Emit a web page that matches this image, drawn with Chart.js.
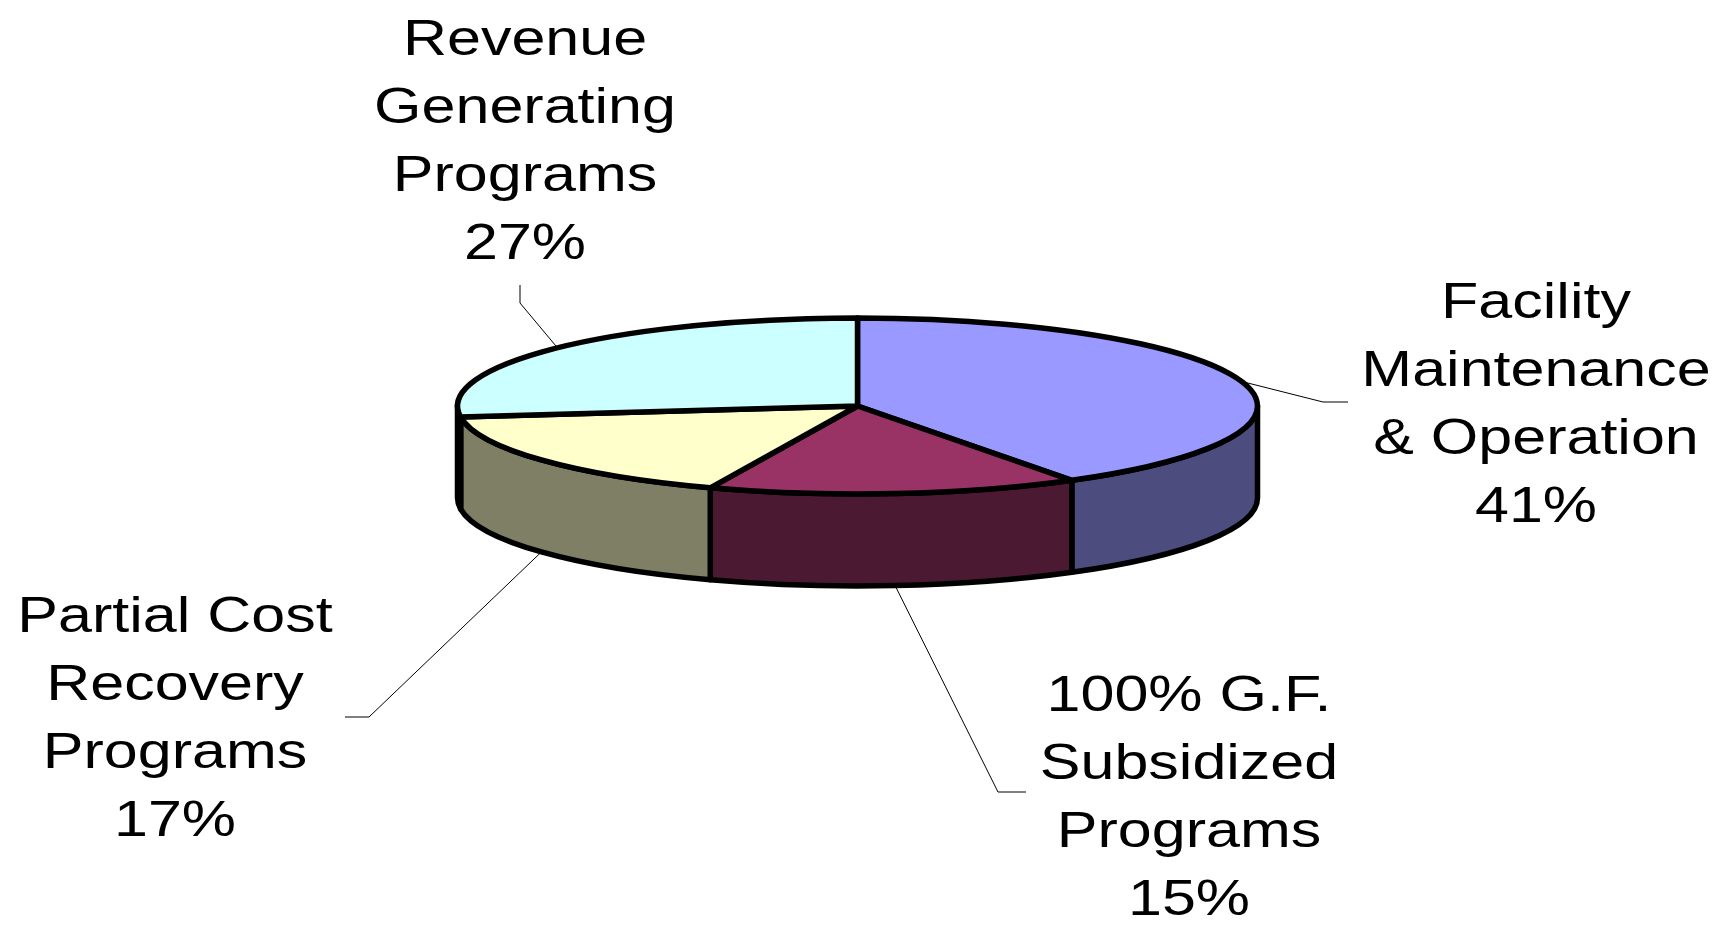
<!DOCTYPE html>
<html>
<head>
<meta charset="utf-8">
<script src="https://cdn.jsdelivr.net/npm/chart.js@4"></script>
<style>
  html, body { margin: 0; padding: 0; background: #fff; }
  #wrap { width: 1729px; height: 930px; }
</style>
</head>
<body>
<div id="wrap"><canvas id="budgetPie" width="1729" height="930"></canvas></div>
<script>
// --- chart data ---
const categories = [
    ['Facility', 'Maintenance', '& Operation'],
    ['100% G.F.', 'Subsidized', 'Programs'],
    ['Partial Cost', 'Recovery', 'Programs'],
    ['Revenue', 'Generating', 'Programs']
];
const shares = [41, 15, 17, 27];

// Excel palette: top face + half-tone side wall
const topColors = ['#9999FF', '#993366', '#FFFFCC', '#CCFFFF'];
const sideColors = ['#4C4C7F', '#4C1933', '#7F7F66', '#667F7F'];

// label anchor (centre of first baseline) and leader line bend
const labelLayout = [
    { x: 1536, y: 318, elbow: [1323, 402], end: [1348, 402] },
    { x: 1189, y: 711, elbow: [998, 792], end: [1026, 792] },
    { x: 175,  y: 632, elbow: [369, 717], end: [345, 717] },
    { x: 525,  y: 55,  elbow: [520, 303], end: [520, 285] }
];

/**
 * Fake 3D pie: squash the arcs Chart.js lays out into an ellipse
 * and give the front half a wall.
 */
const pie3d = {
    id: 'pie3d',
    beforeDatasetsDraw(chart, args, opts) {
        const ctx = chart.ctx;
        const arcs = chart.getDatasetMeta(0).data;
        ctx.save();
        ctx.lineWidth = opts.edgeWidth;
        ctx.lineJoin = 'round';
        ctx.strokeStyle = '#000';

        // walls - only the part facing us (0..PI)
        arcs.forEach((arc, i) => {
            const a1 = Math.max(arc.startAngle, 0);
            const a2 = Math.min(arc.endAngle, Math.PI);
            if (a2 <= a1) return;
            const rx = arc.outerRadius, ry = rx * opts.tilt;
            ctx.beginPath();
            ctx.ellipse(arc.x, arc.y, rx, ry, 0, a1, a2);
            ctx.ellipse(arc.x, arc.y + opts.depth, rx, ry, 0, a2, a1, true);
            ctx.closePath();
            ctx.fillStyle = sideColors[i];
            ctx.fill();
            ctx.stroke();
        });

        // top faces
        arcs.forEach((arc, i) => {
            const rx = arc.outerRadius, ry = rx * opts.tilt;
            ctx.beginPath();
            ctx.moveTo(arc.x, arc.y);
            ctx.ellipse(arc.x, arc.y, rx, ry, 0, arc.startAngle, arc.endAngle);
            ctx.closePath();
            ctx.fillStyle = topColors[i];
            ctx.fill();
            ctx.stroke();
        });
        ctx.restore();
    },
    // skip the flat default arcs
    beforeDatasetDraw() { return false; },
    afterDraw(chart, args, opts) {
        const ctx = chart.ctx;
        const arcs = chart.getDatasetMeta(0).data;
        const total = shares.reduce((a, b) => a + b, 0);
        ctx.save();
        arcs.forEach((arc, i) => {
            const lay = labelLayout[i];
            const mid = (arc.startAngle + arc.endAngle) / 2;
            const rx = arc.outerRadius, ry = rx * opts.tilt;
            const px = arc.x + rx * Math.cos(mid);
            const py = arc.y + ry * Math.sin(mid) + (Math.sin(mid) > 0 ? opts.depth : 0);

            // leader line
            ctx.beginPath();
            ctx.moveTo(px, py);
            ctx.lineTo(lay.elbow[0], lay.elbow[1]);
            ctx.lineTo(lay.end[0], lay.end[1]);
            ctx.lineWidth = 1;
            ctx.strokeStyle = '#000';
            ctx.stroke();

            // label text
            const lines = categories[i].concat([Math.round(shares[i] / total * 100) + '%']);
            ctx.fillStyle = '#000';
            ctx.font = opts.fontSize + 'px "Liberation Sans", Arial, sans-serif';
            ctx.textAlign = 'center';
            ctx.textBaseline = 'alphabetic';
            lines.forEach((txt, j) => {
                ctx.save();
                ctx.translate(lay.x, lay.y + j * opts.lineStep);
                ctx.scale(opts.stretch, 1);
                ctx.fillText(txt, 0, 0);
                ctx.restore();
            });
        });
        ctx.restore();
    }
};

new Chart(document.getElementById('budgetPie'), {
    type: 'pie',
    data: {
        labels: categories.map(c => c.join(' ')),
        datasets: [{
            data: shares,
            backgroundColor: topColors,
            radius: 400
        }]
    },
    options: {
        responsive: false,
        animation: false,
        devicePixelRatio: 1,
        layout: { padding: { left: 0, right: 14, top: 0, bottom: 118 } },
        plugins: {
            legend: { display: false },
            tooltip: { enabled: false },
            pie3d: { tilt: 0.22, depth: 92, edgeWidth: 5.5, fontSize: 50, lineStep: 68, stretch: 1.22 }
        }
    },
    plugins: [pie3d]
});
</script>
</body>
</html>
